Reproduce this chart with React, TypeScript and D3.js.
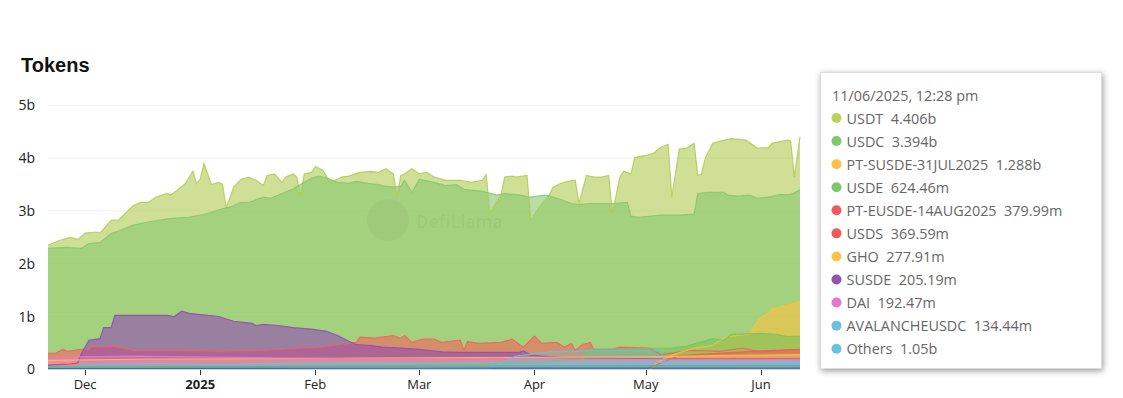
import React, { useEffect, useRef } from 'react';
import * as d3 from 'd3';

type Pt = [string, number];

// values in billions
const usdt: Pt[] = [["2024-11-21",2.35],["2024-11-24",2.44],["2024-11-27",2.5],["2024-11-29",2.46],["2024-12-01",2.58],["2024-12-04",2.6],["2024-12-05",2.58],["2024-12-08",2.82],["2024-12-10",2.83],["2024-12-14",3.1],["2024-12-16",3.16],["2024-12-18",3.16],["2024-12-20",3.26],["2024-12-23",3.33],["2024-12-24",3.3],["2024-12-26",3.4],["2024-12-28",3.52],["2024-12-30",3.75],["2024-12-31",3.52],["2025-01-01",3.6],["2025-01-02",3.9],["2025-01-04",3.5],["2025-01-06",3.54],["2025-01-07",3.5],["2025-01-08",3.05],["2025-01-10",3.45],["2025-01-12",3.6],["2025-01-14",3.64],["2025-01-16",3.58],["2025-01-18",3.48],["2025-01-19",3.67],["2025-01-21",3.7],["2025-01-23",3.54],["2025-01-24",3.64],["2025-01-26",3.7],["2025-01-27",3.64],["2025-01-28",3.28],["2025-01-29",3.7],["2025-01-31",3.73],["2025-02-01",3.84],["2025-02-03",3.77],["2025-02-05",3.54],["2025-02-07",3.6],["2025-02-08",3.64],["2025-02-10",3.66],["2025-02-13",3.73],["2025-02-16",3.75],["2025-02-18",3.73],["2025-02-20",3.8],["2025-02-22",3.7],["2025-02-23",3.26],["2025-02-24",3.67],["2025-02-25",3.7],["2025-02-27",3.8],["2025-03-01",3.7],["2025-03-03",3.73],["2025-03-05",3.64],["2025-03-08",3.58],["2025-03-12",3.58],["2025-03-15",3.54],["2025-03-18",3.58],["2025-03-19",3.69],["2025-03-20",2.97],["2025-03-23",3.3],["2025-03-24",3.64],["2025-03-26",3.66],["2025-03-27",3.64],["2025-03-30",3.67],["2025-03-31",2.82],["2025-04-02",3.05],["2025-04-05",3.3],["2025-04-06",3.45],["2025-04-08",3.52],["2025-04-10",3.56],["2025-04-12",3.58],["2025-04-13",3.14],["2025-04-15",3.67],["2025-04-17",3.64],["2025-04-19",3.64],["2025-04-21",3.67],["2025-04-22",2.95],["2025-04-24",3.64],["2025-04-25",3.75],["2025-04-27",3.7],["2025-04-28",4.01],["2025-05-01",4.05],["2025-05-03",4.09],["2025-05-05",4.2],["2025-05-07",4.26],["2025-05-08",3.26],["2025-05-10",4.17],["2025-05-12",4.19],["2025-05-14",4.28],["2025-05-15",3.67],["2025-05-16",3.7],["2025-05-17",4.0],["2025-05-19",4.28],["2025-05-21",4.32],["2025-05-24",4.37],["2025-05-28",4.34],["2025-05-31",4.19],["2025-06-03",4.2],["2025-06-04",4.28],["2025-06-08",4.34],["2025-06-09",4.33],["2025-06-10",3.64],["2025-06-11 12:28",4.406]];

const usdc: Pt[] = [["2024-11-21",2.29],["2024-11-26",2.31],["2024-11-30",2.29],["2024-12-02",2.38],["2024-12-05",2.4],["2024-12-08",2.57],["2024-12-10",2.62],["2024-12-14",2.73],["2024-12-18",2.79],["2024-12-24",2.86],["2024-12-29",2.88],["2025-01-03",2.95],["2025-01-07",3.04],["2025-01-09",3.07],["2025-01-12",3.16],["2025-01-14",3.16],["2025-01-18",3.26],["2025-01-20",3.24],["2025-01-23",3.33],["2025-01-26",3.42],["2025-01-29",3.54],["2025-01-31",3.62],["2025-02-02",3.66],["2025-02-04",3.62],["2025-02-07",3.54],["2025-02-10",3.52],["2025-02-12",3.56],["2025-02-15",3.52],["2025-02-18",3.5],["2025-02-19",3.48],["2025-02-22",3.45],["2025-02-24",3.47],["2025-02-25",3.58],["2025-02-27",3.35],["2025-03-01",3.6],["2025-03-05",3.54],["2025-03-08",3.48],["2025-03-11",3.5],["2025-03-13",3.41],["2025-03-18",3.37],["2025-03-22",3.3],["2025-03-24",3.33],["2025-03-28",3.3],["2025-03-31",3.26],["2025-04-04",3.3],["2025-04-08",3.22],["2025-04-11",3.14],["2025-04-13",3.12],["2025-04-16",3.14],["2025-04-19",3.14],["2025-04-22",3.14],["2025-04-26",3.16],["2025-04-27",2.9],["2025-04-29",2.88],["2025-05-05",2.92],["2025-05-10",2.92],["2025-05-14",2.94],["2025-05-15",3.33],["2025-05-18",3.35],["2025-05-22",3.35],["2025-05-23",3.3],["2025-05-26",3.28],["2025-05-29",3.3],["2025-05-31",3.24],["2025-06-03",3.26],["2025-06-06",3.31],["2025-06-09",3.31],["2025-06-11 12:28",3.394]];

const usds: Pt[] = [["2024-11-21",0.3],["2024-11-23",0.3],["2024-11-25",0.38],["2024-11-26",0.34],["2024-11-30",0.38],["2024-12-02",0.38],["2024-12-03",0.44],["2024-12-05",0.42],["2024-12-08",0.44],["2024-12-10",0.42],["2024-12-14",0.36],["2024-12-27",0.36],["2025-01-06",0.34],["2025-01-17",0.36],["2025-01-23",0.38],["2025-01-27",0.4],["2025-02-02",0.42],["2025-02-08",0.47],["2025-02-12",0.51],["2025-02-13",0.61],["2025-02-17",0.59],["2025-02-19",0.61],["2025-02-22",0.64],["2025-02-24",0.59],["2025-02-25",0.64],["2025-02-27",0.51],["2025-03-02",0.57],["2025-03-05",0.57],["2025-03-07",0.51],["2025-03-12",0.55],["2025-03-13",0.36],["2025-03-14",0.53],["2025-03-17",0.49],["2025-03-23",0.51],["2025-03-26",0.57],["2025-03-29",0.42],["2025-04-01",0.63],["2025-04-03",0.49],["2025-04-07",0.51],["2025-04-09",0.42],["2025-04-11",0.49],["2025-04-12",0.36],["2025-04-14",0.47],["2025-04-16",0.51],["2025-04-17",0.38],["2025-04-22",0.38],["2025-04-24",0.42],["2025-05-02",0.4],["2025-05-05",0.28],["2025-05-13",0.36],["2025-05-21",0.34],["2025-05-27",0.4],["2025-06-01",0.33],["2025-06-11 12:28",0.37]];

const susde: Pt[] = [["2024-11-21",0.08],["2024-11-27",0.1],["2024-11-29",0.12],["2024-11-30",0.3],["2024-12-02",0.55],["2024-12-05",0.58],["2024-12-06",0.79],["2024-12-08",0.79],["2024-12-09",1.02],["2024-12-17",1.02],["2024-12-23",1.02],["2024-12-25",1.0],["2024-12-27",1.1],["2024-12-29",1.06],["2025-01-06",1.0],["2025-01-10",0.91],["2025-01-15",0.87],["2025-01-16",0.83],["2025-01-18",0.85],["2025-01-22",0.83],["2025-01-26",0.79],["2025-01-31",0.76],["2025-02-04",0.72],["2025-02-07",0.64],["2025-02-10",0.53],["2025-02-12",0.47],["2025-02-16",0.45],["2025-02-19",0.42],["2025-02-24",0.4],["2025-03-01",0.38],["2025-03-07",0.33],["2025-03-12",0.32],["2025-03-28",0.32],["2025-03-29",0.35],["2025-03-31",0.27],["2025-04-08",0.22],["2025-04-19",0.21],["2025-05-05",0.2],["2025-05-21",0.2],["2025-06-11 12:28",0.205]];

const ptSusde: Pt[] = [["2025-05-02",0.0],["2025-05-04",0.12],["2025-05-08",0.27],["2025-05-14",0.4],["2025-05-19",0.45],["2025-05-21",0.55],["2025-05-23",0.62],["2025-05-26",0.64],["2025-05-29",0.66],["2025-05-30",0.8],["2025-06-01",0.98],["2025-06-03",1.06],["2025-06-04",1.14],["2025-06-08",1.21],["2025-06-11 12:28",1.288]];

const usde: Pt[] = [["2024-11-21",0.04],["2025-01-15",0.05],["2025-03-01",0.07],["2025-04-01",0.12],["2025-04-14",0.2],["2025-04-15",0.38],["2025-05-08",0.4],["2025-05-12",0.44],["2025-05-16",0.52],["2025-05-19",0.58],["2025-05-22",0.55],["2025-05-24",0.66],["2025-06-01",0.68],["2025-06-05",0.66],["2025-06-08",0.62],["2025-06-11 12:28",0.624]];

const ptEusde: Pt[] = [["2025-05-01",0.0],["2025-05-05",0.12],["2025-05-10",0.26],["2025-05-20",0.3],["2025-06-01",0.35],["2025-06-08",0.37],["2025-06-11 12:28",0.38]];

const gho: Pt[] = [["2024-11-21",0.17],["2024-12-15",0.19],["2025-01-15",0.2],["2025-02-15",0.21],["2025-03-15",0.22],["2025-04-15",0.23],["2025-05-05",0.24],["2025-05-20",0.26],["2025-06-01",0.27],["2025-06-11 12:28",0.278]];

const dai: Pt[] = [["2024-11-21",0.22],["2024-12-01",0.24],["2024-12-15",0.25],["2025-01-15",0.22],["2025-02-15",0.2],["2025-03-15",0.2],["2025-04-15",0.19],["2025-05-15",0.19],["2025-06-11 12:28",0.192]];

const avaxUsdc: Pt[] = [["2024-11-21",0.02],["2024-11-29",0.02],["2024-11-30",0.1],["2024-12-20",0.11],["2025-01-05",0.1],["2025-02-10",0.12],["2025-03-10",0.12],["2025-04-01",0.14],["2025-05-01",0.13],["2025-06-01",0.13],["2025-06-11 12:28",0.134]];

const otherBlue: Pt[] = [["2024-11-21",0.01],["2025-03-20",0.015],["2025-03-27",0.25],["2025-04-05",0.33],["2025-04-20",0.36],["2025-05-05",0.35],["2025-05-06",0.16],["2025-06-01",0.14],["2025-06-11 12:28",0.16]];
const otherTeal: Pt[] = [["2024-11-21",0.04],["2025-01-20",0.05],["2025-03-01",0.06],["2025-06-11 12:28",0.07]];
const otherNavy: Pt[] = [["2024-11-21",0.015],["2025-03-01",0.02],["2025-06-11 12:28",0.025]];

// draw order (first = back)
const drawSeries = [usdt, usdc, usds, susde, ptSusde, usde, ptEusde, gho, dai, avaxUsdc, otherBlue, otherTeal, otherNavy];
const drawColors = ['#afcb50', '#87c76e', '#f7605e', '#934ab7', '#fdbf3e', '#7cc25c', '#f05a5a', '#f8c14d', '#e877d0', '#6cc0e0', '#6cc0e0', '#3fb8a8', '#3b5bc0'];
const drawOpacity = [0.6, 0.6, 0.6, 0.6, 0.6, 0.6, 0.6, 0.55, 0.45, 0.35, 0.3, 0.35, 0.4];

const tooltipDate = '11/06/2025, 12:28 pm';
const tooltipNames = ['USDT', 'USDC', 'PT-SUSDE-31JUL2025', 'USDE', 'PT-EUSDE-14AUG2025', 'USDS', 'GHO', 'SUSDE', 'DAI', 'AVALANCHEUSDC', 'Others'];
const tooltipValues = ['4.406b', '3.394b', '1.288b', '624.46m', '379.99m', '369.59m', '277.91m', '205.19m', '192.47m', '134.44m', '1.05b'];
const tooltipColors = ['#b8d35a', '#7ec86a', '#fdc24a', '#7ec86a', '#ef5b5b', '#ef5b5b', '#fdc24a', '#9053b0', '#e877cc', '#6cc0e0', '#6cc0e0'];

const yTicks = [0, 1, 2, 3, 4, 5];

const parseDay = d3.timeParse('%Y-%m-%d');
const parseTime = d3.timeParse('%Y-%m-%d %H:%M');
const parse = (s: string) => (s.length > 10 ? parseTime(s) : parseDay(s)) as Date;

const App = () => {
  const ref = useRef<SVGSVGElement>(null);

  useEffect(() => {
    const svg = d3.select(ref.current);
    const font = "'Open Sans', 'Noto Sans', sans-serif";

    const x = d3.scaleTime()
      .domain([parse('2024-11-21'), parse('2025-06-11 12:28')])
      .range([48, 800]);
    const y = d3.scaleLinear().domain([0, 5]).range([369.3, 105.3]);

    // grid
    svg.select('.grid').selectAll('line').data(yTicks.slice(1)).join('line')
      .attr('x1', 48).attr('x2', 800)
      .attr('y1', d => y(d)).attr('y2', d => y(d))
      .attr('stroke', '#f0f0f0').attr('stroke-width', 1);

    const area = d3.area<Pt>()
      .x(d => x(parse(d[0])))
      .y0(y(0))
      .y1(d => y(d[1]));
    const line = d3.line<Pt>()
      .x(d => x(parse(d[0])))
      .y(d => y(d[1]));

    svg.select('.areas').selectAll('path').data(drawSeries).join('path')
      .attr('d', d => area(d))
      .attr('fill', (d, i) => drawColors[i])
      .attr('fill-opacity', (d, i) => drawOpacity[i]);
    svg.select('.lines').selectAll('path').data(drawSeries).join('path')
      .attr('d', d => line(d))
      .attr('fill', 'none')
      .attr('stroke', (d, i) => drawColors[i])
      .attr('stroke-opacity', 0.85)
      .attr('stroke-width', 1.2);

    // watermark on top, very faint
    const wm = svg.select('.watermark');
    wm.selectAll('circle').data([0]).join('circle')
      .attr('cx', 388).attr('cy', 220).attr('r', 21)
      .attr('fill', '#000').attr('fill-opacity', 0.03);
    wm.selectAll('text').data(['DefiLlama']).join('text')
      .attr('x', 416).attr('y', 228)
      .style('font-family', font).style('font-weight', 700).style('font-size', '17px')
      .attr('fill', '#000').attr('fill-opacity', 0.04)
      .text(d => d);

    // y axis labels
    svg.select('.yaxis').selectAll('text').data(yTicks).join('text')
      .attr('x', 35).attr('y', d => y(d) + 5)
      .attr('text-anchor', 'end')
      .style('font-family', font).style('font-size', '14px')
      .attr('fill', '#222')
      .text(d => (d === 0 ? '0' : d + 'b'));

    // x axis
    const xa = svg.select('.xaxis');
    xa.selectAll('.baseline').data([0]).join('line').attr('class', 'baseline')
      .attr('x1', 48).attr('x2', 800).attr('y1', 369.5).attr('y2', 369.5)
      .attr('stroke', '#d0d0d0');
    const months = x.ticks(d3.timeMonth.every(1) as d3.TimeInterval);
    xa.selectAll('.tick').data(months).join('line').attr('class', 'tick')
      .attr('x1', d => Math.round(x(d)) + 0.5).attr('x2', d => Math.round(x(d)) + 0.5)
      .attr('y1', 370).attr('y2', 375)
      .attr('stroke', '#333');
    xa.selectAll('.label').data(months).join('text').attr('class', 'label')
      .attr('x', d => x(d)).attr('y', 389)
      .attr('text-anchor', 'middle')
      .style('font-family', font).style('font-size', '13px')
      .style('font-weight', d => (d.getMonth() === 0 ? 700 : 400))
      .attr('fill', '#222')
      .text(d => (d.getMonth() === 0 ? d3.timeFormat('%Y')(d) : d3.timeFormat('%b')(d)));

    // tooltip
    const tip = svg.select('.tooltip');
    tip.selectAll('rect').data([0]).join('rect')
      .attr('x', 820.5).attr('y', 72.5).attr('width', 281).attr('height', 296)
      .attr('fill', '#fff').attr('stroke', '#ddd')
      .style('filter', 'drop-shadow(1px 2px 3px rgba(0,0,0,0.4))');
    tip.selectAll('.date').data([tooltipDate]).join('text').attr('class', 'date')
      .attr('x', 832).attr('y', 101)
      .style('font-family', font).style('font-size', '14.4px')
      .attr('fill', '#666').text(d => d);
    tip.selectAll('.dot').data(tooltipNames).join('circle').attr('class', 'dot')
      .attr('cx', 836.5).attr('cy', (d, i) => 118 + i * 23.07).attr('r', 5)
      .attr('fill', (d, i) => tooltipColors[i]);
    tip.selectAll('.row').data(tooltipNames).join('text').attr('class', 'row')
      .attr('x', 846.5).attr('y', (d, i) => 123.5 + i * 23.07)
      .style('font-family', font).style('font-size', '14.4px').style('white-space', 'pre')
      .attr('fill', '#666')
      .text((d, i) => d + '  ' + tooltipValues[i]);
  }, []);

  return (
    <svg ref={ref} width={1123} height={398}
      style={{ position: 'absolute', left: 0, top: 0, background: '#fff' }}>
      <text x={21} y={72} style={{ fontFamily: "'Liberation Sans', Arial, sans-serif", fontWeight: 700, fontSize: '20px' }} fill="#111">Tokens</text>
      <g className="grid"></g>
      <g className="areas"></g>
      <g className="lines"></g>
      <g className="watermark"></g>
      <g className="yaxis"></g>
      <g className="xaxis"></g>
      <g className="tooltip"></g>
    </svg>
  );
};

export default App;
